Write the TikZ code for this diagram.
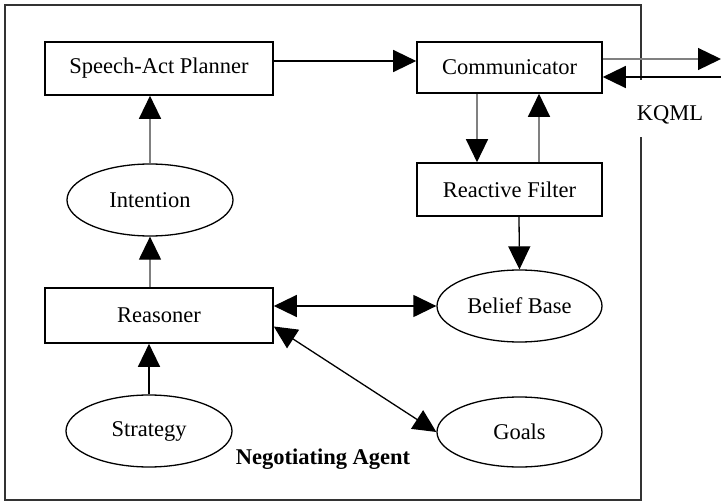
\documentclass[tikz,border=0pt]{standalone}
\usepackage{fontspec}
\setmainfont{Liberation Serif}
\usetikzlibrary{arrows.meta,shapes.geometric}

\tikzset{
  every node/.style={font=\fontsize{22.5}{26}\selectfont},
  box/.style={draw, line width=1.6pt, rectangle, inner sep=0pt},
  oval/.style={draw, line width=1.3pt, ellipse, inner sep=0pt},
  tip/.tip={Triangle[length=23pt,width=22pt,color=black]},
  arr/.style={line width=1.3pt, -tip},
  biarr/.style={line width=1.3pt, tip-tip},
  soft/.style={draw=black!50},
}

\begin{document}
\begin{tikzpicture}[x=1pt,y=-1pt]
  \useasboundingbox (0,0) rectangle (721,503);

  % agent frame, open on the right where KQML sits
  \draw[line width=1.6pt, black!80] (641,80) -- (641,5) -- (5,5) -- (5,500) -- (641,500) -- (641,137);

  % components
  \node[box, minimum width=228pt, minimum height=53pt] (sap)   at (159,68.5) {Speech-Act Planner};
  \node[box, minimum width=185pt, minimum height=51pt] (comm)  at (509.5,67.5) {Communicator};
  \node[box, minimum width=185pt, minimum height=53pt] (rf)    at (509.5,189.5) {Reactive Filter};
  \node[box, minimum width=228pt, minimum height=55pt] (reas)  at (159,315.5) {Reasoner};
  \node[oval, minimum width=166pt, minimum height=72pt] (int)  at (150,200) {Intention};
  \node[oval, minimum width=166pt, minimum height=72pt] (strat) at (149,431) {Strategy};
  \node[oval, minimum width=165pt, minimum height=72pt] (bb)   at (519.5,306) {Belief Base};
  \node[oval, minimum width=165pt, minimum height=70pt] (goals) at (519.5,432) {Goals};

  \node (kqml) at (670,115) {KQML};
  \node[font=\fontsize{22.5}{26}\selectfont\bfseries] (agent) at (323,459) {Negotiating Agent};

  % external message ends
  \coordinate (outend) at (721,59);
  \coordinate (inend)  at (721,77);

  % connectors
  \draw[arr, soft] (int.north) -- (int.north |- sap.south);
  \draw[arr, soft] (int.south |- reas.north) -- (int.south);
  \draw[arr] (strat.north) -- (strat.north |- reas.south);
  \draw[arr] ([yshift=7.5pt]sap.east) -- ([yshift=7.5pt]sap.east -| comm.west);
  \draw[arr, soft] ([xshift=-32.5pt]comm.south) -- ([xshift=-32.5pt]comm.south |- rf.north);
  \draw[arr, soft] ([xshift=29.5pt]rf.north) -- ([xshift=29.5pt]rf.north |- comm.south);
  \draw[arr] ([xshift=9.5pt]rf.south) -- (bb.north);
  \draw[biarr] (reas.east |- bb.west) -- (bb.west);
  \draw[biarr] ([yshift=-11pt]reas.east) -- (goals.west);
  \draw[arr, soft] ([yshift=8.5pt]comm.east) -- (outend);
  \draw[arr] (inend) -- ([yshift=-9.5pt]comm.east);
\end{tikzpicture}
\end{document}
